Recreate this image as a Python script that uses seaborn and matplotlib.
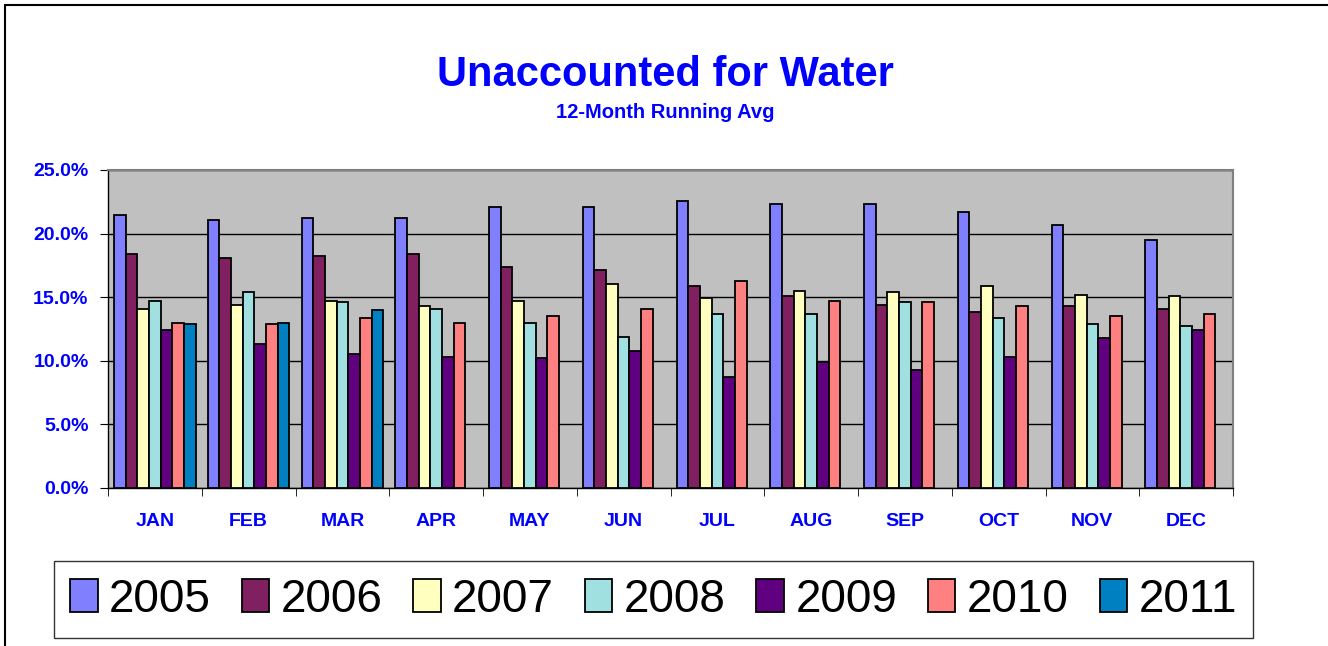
import pandas as pd
import matplotlib.pyplot as plt
import seaborn as sns
import numpy as np
from matplotlib.lines import Line2D

# data (percent)
months = ["JAN", "FEB", "MAR", "APR", "MAY", "JUN", "JUL", "AUG", "SEP", "OCT", "NOV", "DEC"]
years = ["2005", "2006", "2007", "2008", "2009", "2010", "2011"]
nan = np.nan
v2005 = [21.5, 21.1, 21.2, 21.2, 22.1, 22.1, 22.6, 22.3, 22.3, 21.7, 20.7, 19.5]
v2006 = [18.4, 18.1, 18.2, 18.4, 17.4, 17.1, 15.9, 15.1, 14.4, 13.8, 14.3, 14.1]
v2007 = [14.1, 14.4, 14.7, 14.3, 14.7, 16.0, 14.9, 15.5, 15.4, 15.9, 15.2, 15.1]
v2008 = [14.7, 15.4, 14.6, 14.1, 13.0, 11.9, 13.7, 13.7, 14.6, 13.4, 12.9, 12.7]
v2009 = [12.4, 11.3, 10.5, 10.3, 10.2, 10.8, 8.7, 9.9, 9.3, 10.3, 11.8, 12.4]
v2010 = [13.0, 12.9, 13.4, 13.0, 13.5, 14.1, 16.3, 14.7, 14.6, 14.3, 13.5, 13.7]
v2011 = [12.9, 13.0, 14.0, nan, nan, nan, nan, nan, nan, nan, nan, nan]
colors = ["#8080FF", "#802060", "#FFFFC0", "#A0E0E0", "#600080", "#FF8080", "#0080C0"]

series = [v2005, v2006, v2007, v2008, v2009, v2010, v2011]
rows = []
for yr, vals in zip(years, series):
    for m, v in zip(months, vals):
        rows.append({"month": m, "year": yr, "value": v})
df = pd.DataFrame(rows)

sns.set_style("white")
plt.rcParams["font.family"] = ["Liberation Sans", "DejaVu Sans"]

W, H = 1328, 646
fig = plt.figure(figsize=(W / 100, H / 100), dpi=100)
ax = fig.add_axes([108 / W, 1 - 488 / H, 1125 / W, 318 / H])
ax.set_facecolor("#C0C0C0")

sns.barplot(data=df, x="month", y="value", hue="year", order=months, hue_order=years,
            palette=colors, width=0.87, edgecolor="black", linewidth=1.3,
            saturation=1, ax=ax, zorder=3)

ax.set_ylim(0, 25)
ax.set_xlim(-0.5, 11.5)
ax.set_yticks(np.arange(0, 25.1, 5))
ax.set_yticklabels([f"{t:.1f}%" for t in np.arange(0, 25.1, 5)])
ax.yaxis.grid(True, color="black", linewidth=1)
ax.set_axisbelow(True)
ax.set_xlabel("")
ax.set_ylabel("")

ax.tick_params(axis="x", which="major", length=0, pad=18, labelsize=14, labelcolor="#0000FF")
ax.set_xticks(np.arange(-0.5, 12, 1), minor=True)
ax.tick_params(axis="x", which="minor", length=6, direction="out", bottom=True, color="black")
ax.tick_params(axis="y", length=6, direction="out", left=True, pad=8, labelsize=14,
               labelcolor="#0000FF", color="black")
for lab in ax.get_xticklabels() + ax.get_yticklabels():
    lab.set_fontweight("bold")

for s in ["left", "bottom"]:
    ax.spines[s].set_color("black")
    ax.spines[s].set_linewidth(1)
for s in ["top", "right"]:
    ax.spines[s].set_color("#808080")
    ax.spines[s].set_linewidth(1.5)

fig.text(665 / W, 1 - 75 / H, "Unaccounted for Water", ha="center", va="center",
         fontsize=30, fontweight="bold", color="#0000FF")
fig.text(665 / W, 1 - 113 / H, "12-Month Running Avg", ha="center", va="center",
         fontsize=14.5, fontweight="bold", color="#0000FF")

handles, labels = ax.get_legend_handles_labels()
ax.get_legend().remove()
leg = fig.legend(handles, labels, ncol=7, loc="center", mode="expand",
                 bbox_to_anchor=(54 / W, 1 - 637 / H, 1199 / W, 75 / H),
                 fontsize=33, frameon=True, fancybox=False, edgecolor="black",
                 labelcolor="black",
                 handlelength=0.6, handleheight=0.7, handletextpad=0.25,
                 columnspacing=0.5, borderaxespad=0, borderpad=0.35)
leg.get_frame().set_linewidth(1)

# outer chart border
fig.add_artist(Line2D([5 / W, 1], [1 - 5 / H, 1 - 5 / H], color="black", linewidth=1.5))
fig.add_artist(Line2D([5 / W, 5 / W], [0, 1 - 5 / H], color="black", linewidth=1.5))

fig.savefig("out.png", dpi=100)
